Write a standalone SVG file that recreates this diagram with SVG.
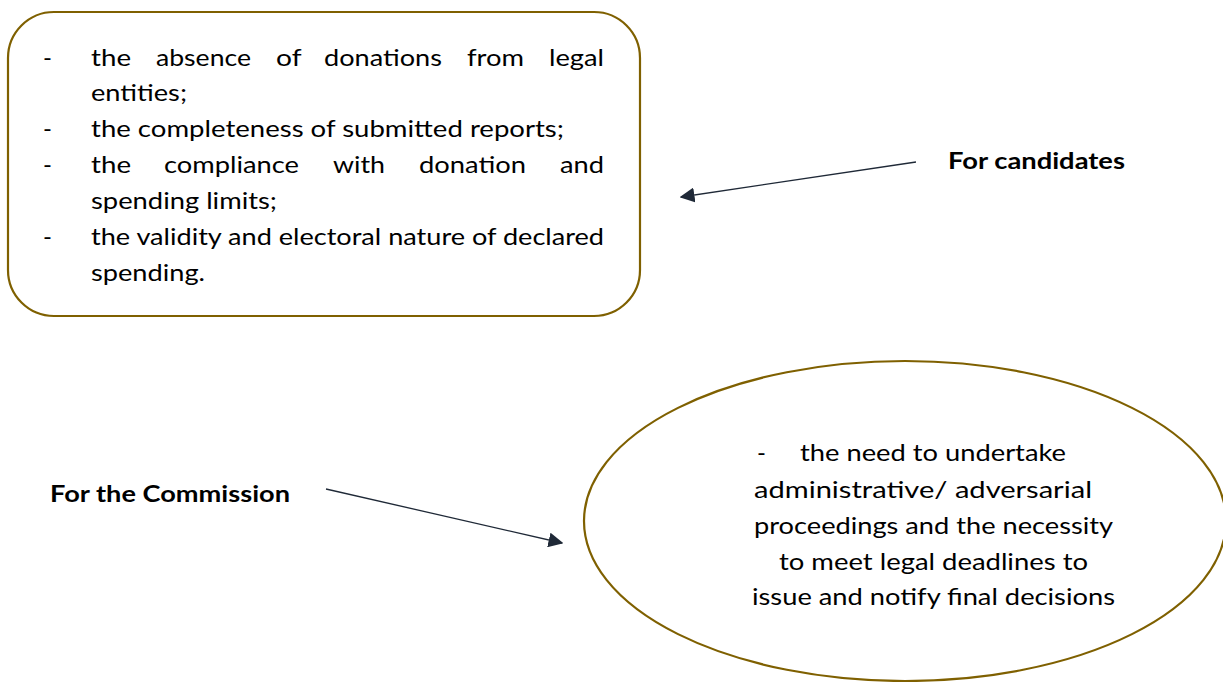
<svg xmlns="http://www.w3.org/2000/svg" width="1223" height="682" viewBox="0 0 1223 682">
<defs>
<style>
.shape{fill:#ffffff;stroke:#7f6000;stroke-width:2.2}
.t{font-family:Lato,"Liberation Sans",sans-serif;font-size:24px;fill:#000000}
.b{font-family:Lato,"Liberation Sans",sans-serif;font-size:23px;font-weight:bold;fill:#000000}
.conn{stroke:#1f2937;stroke-width:1.3;fill:none}
</style>
<marker id="ah" viewBox="0 0 10 10" refX="9" refY="5" markerWidth="15" markerHeight="15" markerUnits="userSpaceOnUse" orient="auto">
<path d="M0,0 L10,5 L0,10 z" fill="#1f2937"/>
</marker>
</defs>
<rect width="1223" height="682" fill="#ffffff"/>
<g id="candidates-box">
<rect class="shape" x="8" y="12" width="632" height="304" rx="46" ry="46"/>
<text class="t">
<tspan x="43" y="66">-</tspan>
<tspan x="91" y="66" textLength="40" lengthAdjust="spacingAndGlyphs">the</tspan>
<tspan x="156" y="66" textLength="95" lengthAdjust="spacingAndGlyphs">absence</tspan>
<tspan x="276" y="66" textLength="25" lengthAdjust="spacingAndGlyphs">of</tspan>
<tspan x="324" y="66" textLength="118" lengthAdjust="spacingAndGlyphs">donations</tspan>
<tspan x="467" y="66" textLength="57" lengthAdjust="spacingAndGlyphs">from</tspan>
<tspan x="549" y="66" textLength="55" lengthAdjust="spacingAndGlyphs">legal</tspan>
</text>
<text class="t" x="91" y="101" textLength="96" lengthAdjust="spacingAndGlyphs">entities;</text>
<text class="t" x="43" y="137">-</text>
<text class="t" x="91" y="137" textLength="473" lengthAdjust="spacingAndGlyphs">the completeness of submitted reports;</text>
<text class="t">
<tspan x="43" y="173">-</tspan>
<tspan x="91" y="173" textLength="40" lengthAdjust="spacingAndGlyphs">the</tspan>
<tspan x="164" y="173" textLength="135" lengthAdjust="spacingAndGlyphs">compliance</tspan>
<tspan x="333" y="173" textLength="52" lengthAdjust="spacingAndGlyphs">with</tspan>
<tspan x="419" y="173" textLength="107" lengthAdjust="spacingAndGlyphs">donation</tspan>
<tspan x="560" y="173" textLength="44" lengthAdjust="spacingAndGlyphs">and</tspan>
</text>
<text class="t" x="91" y="209" textLength="186" lengthAdjust="spacingAndGlyphs">spending limits;</text>
<text class="t" x="43" y="245">-</text>
<text class="t" x="91" y="245" textLength="513" lengthAdjust="spacingAndGlyphs">the validity and electoral nature of declared</text>
<text class="t" x="91" y="281" textLength="114" lengthAdjust="spacingAndGlyphs">spending.</text>
</g>
<g id="for-candidates">
<text class="b" x="948" y="168.5" textLength="177" lengthAdjust="spacingAndGlyphs">For candidates</text>
</g>
<g id="commission-ellipse">
<ellipse class="shape" cx="905" cy="521" rx="321" ry="160"/>
<text class="t" x="757" y="461">-</text>
<text class="t" x="800" y="461" textLength="266" lengthAdjust="spacingAndGlyphs">the need to undertake</text>
<text class="t" x="754" y="498" textLength="338" lengthAdjust="spacingAndGlyphs">administrative/ adversarial</text>
<text class="t" x="754" y="534" textLength="359" lengthAdjust="spacingAndGlyphs">proceedings and the necessity</text>
<text class="t" x="779" y="570" textLength="309" lengthAdjust="spacingAndGlyphs">to meet legal deadlines to</text>
<text class="t" x="752" y="605" textLength="363" lengthAdjust="spacingAndGlyphs">issue and notify final decisions</text>
</g>
<g id="for-commission">
<text class="b" x="50" y="502" textLength="240" lengthAdjust="spacingAndGlyphs">For the Commission</text>
</g>
<g id="connectors">
<line class="conn" x1="916" y1="162" x2="681" y2="197" marker-end="url(#ah)"/>
<line class="conn" x1="326" y1="489" x2="562" y2="543" marker-end="url(#ah)"/>
</g>
</svg>
